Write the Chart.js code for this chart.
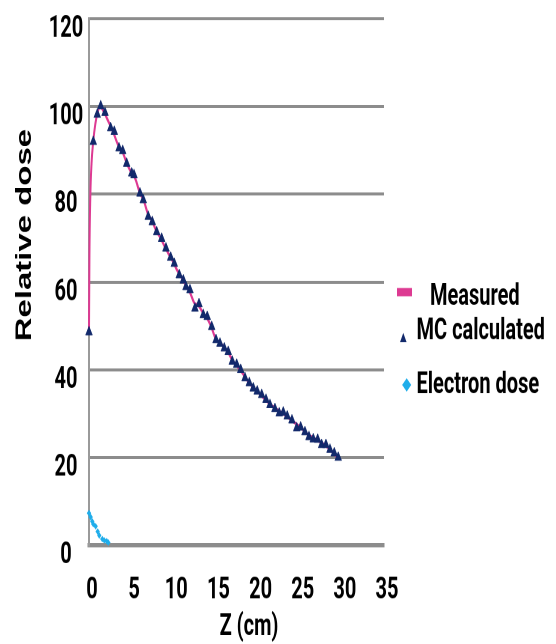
<!DOCTYPE html>
<html>
<head>
<meta charset="utf-8">
<script src="https://cdn.jsdelivr.net/npm/chart.js@4.4.1/dist/chart.umd.min.js"></script>
<style>
  html, body { margin: 0; padding: 0; background: #fff; }
  #chart { display: block; width: 556px; height: 644px; }
</style>
</head>
<body>
<canvas id="chart" width="556" height="430" style="width:556px;height:644px"></canvas>
<script>
// Datos
const xTicks = [0, 5, 10, 15, 20, 25, 30, 35];
const yTicks = [0, 20, 40, 60, 80, 100, 120];

const measuredZ = [0, 0.05, 0.15, 0.3, 0.5, 0.75, 1.0, 1.3, 1.7, 2.2, 2.8, 3.5, 4.0, 4.5, 5.0, 5.5, 6.0, 6.5, 7.0, 7.5, 8.0, 8.5, 9.0, 9.5, 10.0, 10.5, 11.0, 11.5, 12.0, 12.5, 13.0, 13.5, 14.0, 14.5, 15.0, 15.5, 16.0, 16.5, 17.0, 17.5, 18.0, 19, 20, 21, 22, 23, 24, 25, 26, 27, 28, 29, 29.6];
const measuredDose = [49, 66, 79, 87, 92, 96, 98.5, 100, 99, 97, 94.5, 91, 89.5, 87, 85, 83.5, 80.5, 78.5, 75.5, 73.8, 71.6, 70, 68, 66.2, 64.5, 62.5, 61, 59.2, 57.5, 55.2, 54.6, 53, 51.8, 49.8, 47.2, 46.2, 45.2, 44, 42.2, 41, 39.8, 37, 35, 33, 31.3, 30, 28.5, 27, 25.2, 24, 22.8, 21, 19.8];

const mcZ = [0, 0.51, 0.98, 1.39, 1.9, 2.57, 3.0, 3.56, 4.0, 4.47, 5.07, 5.34, 6.05, 6.44, 7.03, 7.51, 8.03, 8.62, 9.13, 9.69, 10.12, 10.71, 11.19, 11.51, 11.98, 12.57, 13.05, 13.56, 14.03, 14.56, 15.07, 15.54, 16.05, 16.52, 17.0, 17.52, 18.0, 18.51, 19.02, 19.49, 19.96, 20.49, 21.0, 21.47, 22.06, 22.57, 23.05, 23.52, 24.08, 24.64, 25.11, 25.62, 26.1, 26.61, 27.13, 27.6, 28.11, 28.59, 29.1, 29.57];
const mcDose = [48.6, 92.0, 98.2, 100.1, 98.6, 95.1, 94.3, 90.5, 89.9, 87.0, 84.8, 84.4, 80.2, 78.7, 74.9, 73.7, 71.4, 69.9, 67.7, 65.6, 64.2, 61.6, 60.4, 58.9, 58.2, 54.0, 55.0, 52.5, 52.1, 49.8, 46.8, 46.0, 44.9, 44.1, 41.9, 41.2, 40.0, 38.1, 37.0, 35.8, 35.1, 34.3, 33.2, 32.0, 31.1, 30.1, 30.3, 29.4, 28.5, 26.7, 26.9, 25.8, 24.7, 24.2, 24.1, 22.9, 22.9, 21.8, 21.0, 20.0];

const electronZ = [0, 0.2, 0.39, 0.51, 0.79, 1.03, 1.22, 1.58, 1.81, 2.1, 2.29];
const electronDose = [7.3, 6.4, 5.4, 4.8, 4.3, 3.1, 2.2, 1.4, 1.1, 0.9, 0.6];

const COLOR_MEASURED = '#dd3a92';
const COLOR_MC = '#12296b';
const COLOR_ELECTRON = '#1fadea';
const GRID = '#8c8c8c';

function toPoints(xs, ys) {
    return xs.map((x, i) => ({ x: x, y: ys[i] }));
}

// Textos: etiquetas, títulos y leyenda (el lienzo se estira en vertical por CSS)
const textPlugin = {
    id: 'textPlugin',
    afterDraw(chart) {
        const ctx = chart.ctx;
        const xs = chart.scales.x;
        const ys = chart.scales.y;
        ctx.save();
        ctx.fillStyle = '#000';
        ctx.textBaseline = 'middle';
        ctx.textAlign = 'center';
        ctx.font = 'bold 20px Roboto';

        yTicks.forEach(v => {
            ctx.fillText(String(v), 66, ys.getPixelForValue(v) + 7);
        });
        xTicks.forEach(v => {
            ctx.fillText(String(v), xs.getPixelForValue(v) + 3, 394.5);
        });

        ctx.fillText('Z (cm)', 249, 419);

        // título eje Y
        ctx.save();
        ctx.translate(25, 157);
        ctx.rotate(-Math.PI / 2);
        ctx.font = 'bold 22px "Liberation Sans"';
        ctx.fillText('Relative dose', 0, 0);
        ctx.restore();

        // leyenda
        ctx.textAlign = 'left';
        ctx.font = 'bold 20px Roboto';
        ctx.fillStyle = COLOR_MEASURED;
        ctx.fillRect(397, 192.3, 15, 5.5);
        ctx.fillStyle = '#000';
        ctx.fillText('Measured', 430, 198.5);

        ctx.fillStyle = COLOR_MC;
        ctx.beginPath();
        ctx.moveTo(403.3, 222.3);
        ctx.lineTo(406.6, 228.5);
        ctx.lineTo(400, 228.5);
        ctx.closePath();
        ctx.fill();
        ctx.fillStyle = '#000';
        ctx.fillText('MC calculated', 416.5, 221.5);

        ctx.fillStyle = COLOR_ELECTRON;
        ctx.beginPath();
        ctx.moveTo(406.7, 252.5);
        ctx.lineTo(411.2, 257);
        ctx.lineTo(406.7, 261.5);
        ctx.lineTo(402.2, 257);
        ctx.closePath();
        ctx.fill();
        ctx.fillStyle = '#000';
        ctx.fillText('Electron dose', 416.5, 257.5);
        ctx.restore();
    }
};

const chart = new Chart(document.getElementById('chart').getContext('2d'), {
    type: 'scatter',
    data: {
        datasets: [
            {
                label: 'Measured',
                data: toPoints(measuredZ, measuredDose),
                showLine: true,
                borderColor: COLOR_MEASURED,
                backgroundColor: COLOR_MEASURED,
                borderWidth: 2,
                pointRadius: 0,
                cubicInterpolationMode: 'monotone',
                order: 2
            },
            {
                label: 'MC calculated',
                data: toPoints(mcZ, mcDose),
                pointStyle: 'triangle',
                pointRadius: 3.9,
                backgroundColor: COLOR_MC,
                borderColor: COLOR_MC,
                borderWidth: 0.5,
                order: 0
            },
            {
                label: 'Electron dose',
                data: toPoints(electronZ, electronDose),
                pointStyle: 'rectRot',
                pointRadius: 2.2,
                backgroundColor: COLOR_ELECTRON,
                borderColor: COLOR_ELECTRON,
                borderWidth: 0,
                order: 1
            }
        ]
    },
    options: {
        responsive: false,
        devicePixelRatio: 2,
        animation: false,
        clip: false,
        layout: { padding: { left: 89, right: 172, top: 12.5, bottom: 66 } },
        scales: {
            x: {
                type: 'linear',
                min: 0,
                max: 35,
                ticks: { display: false },
                grid: { display: false, drawTicks: false },
                border: { display: true, color: GRID, width: 3 }
            },
            y: {
                min: 0,
                max: 120,
                ticks: { display: false, stepSize: 20 },
                grid: { color: GRID, lineWidth: 2, drawTicks: false },
                border: { display: true, color: '#9a9a9a', width: 2 }
            }
        },
        plugins: {
            legend: { display: false },
            tooltip: { enabled: false }
        }
    },
    plugins: [textPlugin]
});
</script>
</body>
</html>
